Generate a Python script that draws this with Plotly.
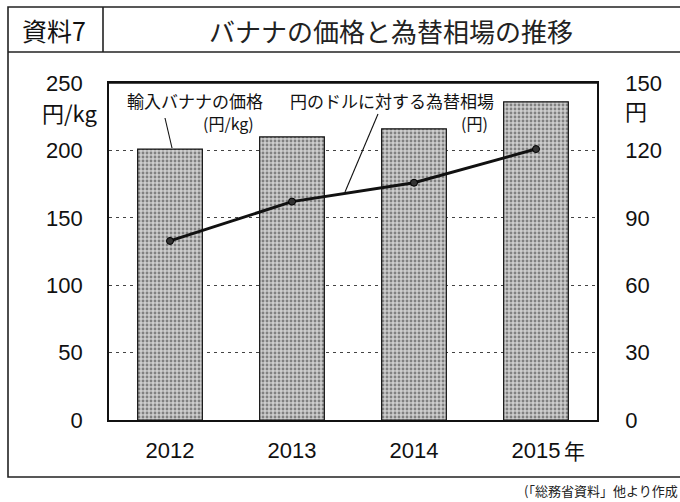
import plotly.graph_objects as go

years = ["2012", "2013", "2014", "2015"]
banana_price = [201, 210, 216, 236]      # 円/kg
yen_per_dollar = [79.7, 97.2, 105.6, 120.6]  # 円

left_ticks = [0, 50, 100, 150, 200, 250]
right_ticks = [0, 30, 60, 90, 120, 150]

W, H = 680, 502
L, R, T, B = 109, 597, 83, 420

def px(x):
    return (x - L) / (R - L)

def py(y):
    return (B - y) / (B - T)

JP = "Noto Sans CJK JP"
NUM = "Liberation Sans, Arial, sans-serif"

fig = go.Figure()
fig.add_trace(go.Bar(
    x=years, y=banana_price, width=0.53,
    marker=dict(color="#c4c4c4",
                line=dict(color="#111", width=1.2),
                pattern=dict(shape=".", fgcolor="#333", bgcolor="#cdcdcd",
                             size=4, solidity=0.4)),
    yaxis="y", showlegend=False,
))
fig.add_trace(go.Scatter(
    x=years, y=yen_per_dollar, mode="lines+markers",
    line=dict(color="#111", width=3),
    marker=dict(symbol="circle", size=7, color="#333",
                line=dict(color="#000", width=1)),
    yaxis="y2", showlegend=False,
))

fig.update_layout(
    width=W, height=H,
    margin=dict(l=L, r=W - R, t=T, b=H - B),
    paper_bgcolor="white", plot_bgcolor="white",
    xaxis=dict(
        type="category", range=[-0.5, 3.5],
        tickvals=years, ticktext=["2012", "2013", "2014", "2015"],
        tickfont=dict(family=NUM, size=22, color="#111"),
        showline=True, linecolor="#111", linewidth=1.6, mirror=True,
        ticks="outside", ticklen=0, ticklabelstandoff=10,
        showgrid=False, zeroline=False,
    ),
    yaxis=dict(
        range=[0, 250], tickvals=left_ticks,
        ticktext=[str(v) for v in left_ticks],
        tickfont=dict(family=NUM, size=22, color="#111"),
        showline=True, linecolor="#111", linewidth=1.6, mirror=False,
        ticks="outside", ticklen=0, ticklabelstandoff=20,
        showgrid=True, gridcolor="#444", gridwidth=1, griddash="3px,4px",
        zeroline=False,
    ),
    yaxis2=dict(
        range=[0, 150], tickvals=right_ticks,
        ticktext=[str(v) for v in right_ticks],
        tickfont=dict(family=NUM, size=22, color="#111"),
        overlaying="y", side="right",
        showline=True, linecolor="#111", linewidth=1.6,
        ticks="outside", ticklen=0, ticklabelstandoff=22,
        showgrid=False, zeroline=False,
    ),
)

shapes = [
    dict(type="line", xref="paper", yref="paper", x0=0, x1=1, y0=1, y1=1,
         line=dict(color="#111", width=1.6)),
    # outer frame
    dict(type="rect", xref="paper", yref="paper",
         x0=px(8), x1=px(700), y0=py(477), y1=py(7),
         line=dict(color="#222", width=1.6)),
    dict(type="line", xref="paper", yref="paper",
         x0=px(8), x1=px(700), y0=py(52), y1=py(52),
         line=dict(color="#222", width=1.6)),
    dict(type="line", xref="paper", yref="paper",
         x0=px(103), x1=px(103), y0=py(7), y1=py(52),
         line=dict(color="#222", width=1.6)),
    # leader lines
    dict(type="line", xref="paper", yref="paper",
         x0=px(165), x1=px(172), y0=py(118), y1=py(148),
         line=dict(color="#111", width=1.1)),
    dict(type="line", xref="paper", yref="paper",
         x0=px(378), x1=px(345), y0=py(114), y1=py(192),
         line=dict(color="#111", width=1.1)),
]
fig.update_layout(shapes=shapes)

def ann(text, x, y, size, family=JP, xanchor="center", color="#111"):
    return dict(text=text, xref="paper", yref="paper", x=px(x), y=py(y),
                xanchor=xanchor, yanchor="middle", showarrow=False,
                borderpad=0,
                font=dict(family=family, size=size, color=color))

anns = [
    ann("資料7", 54, 30, 25),
    ann("バナナの価格と為替相場の推移", 391, 30, 26, color="#222"),
    ann("円/kg", 70, 112, 22),
    ann("円", 636, 110, 22),
    ann("輸入バナナの価格", 195, 101, 17),
    ann("(円/kg)", 228, 123, 16),
    ann("円のドルに対する為替相場", 392, 101, 17),
    ann("(円)", 474, 123, 16),
    ann("年", 574, 450, 21),
    ann("(「総務省資料」他より作成", 679, 490, 13, xanchor="right", color="#222"),
]
fig.update_layout(annotations=anns)

fig.write_html(
    "out.html",
    config={"displayModeBar": False},
    post_script="document.body.style.margin='0';document.body.style.overflow='hidden';",
)
